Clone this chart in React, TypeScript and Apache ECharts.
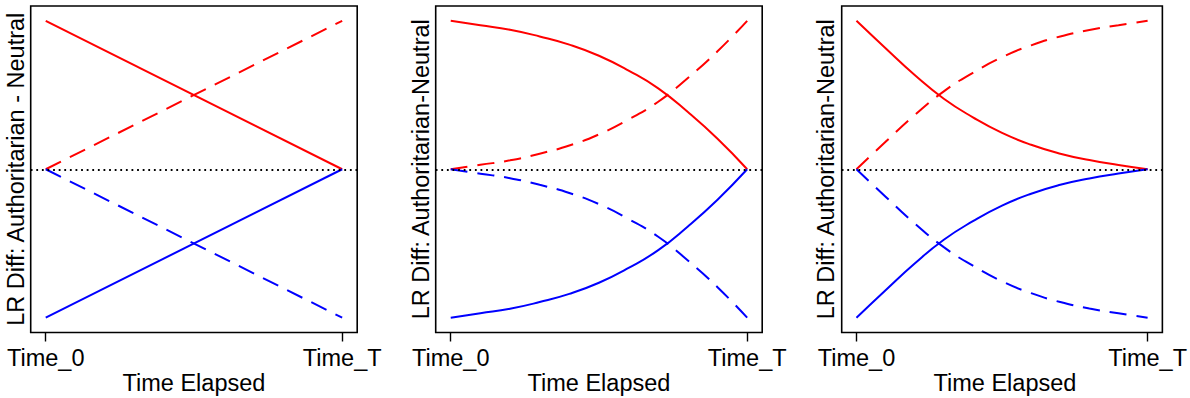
import React, { useEffect, useRef } from 'react';
import * as echarts from 'echarts';

// ---- data ----
const xTickValues = [0, 1];
const xTickLabels = ['Time_0', 'Time_T'];
const xAxisTitle = 'Time Elapsed';
const yAxisTitles = [
  'LR Diff: Authoritarian - Neutral',
  'LR Diff: Authoritarian-Neutral',
  'LR Diff: Authoritarian-Neutral',
];

// panel 1: linear change
const p1Times = [0, 1];
const p1RedSolid = [1, 0];
const p1RedDashed = [0, 1];
const p1BlueSolid = [-1, 0];
const p1BlueDashed = [0, -1];

// panel 2: accelerating change
const p2Times = [0, 0.1, 0.2, 0.3, 0.4, 0.5, 0.6, 0.7, 0.8, 0.9, 1];
const p2RedSolid = [1, 0.97, 0.94, 0.895, 0.84, 0.765, 0.665, 0.545, 0.385, 0.205, 0];
const p2RedDashed = [0, 0.03, 0.06, 0.105, 0.16, 0.235, 0.335, 0.455, 0.615, 0.795, 1];
const p2BlueSolid = [-1, -0.97, -0.94, -0.895, -0.84, -0.765, -0.665, -0.545, -0.385, -0.205, 0];
const p2BlueDashed = [0, -0.03, -0.06, -0.105, -0.16, -0.235, -0.335, -0.455, -0.615, -0.795, -1];

// panel 3: decelerating change
const p3Times = [0, 0.1, 0.2, 0.3, 0.4, 0.5, 0.6, 0.7, 0.8, 0.9, 1];
const p3RedSolid = [1, 0.815, 0.635, 0.475, 0.35, 0.245, 0.165, 0.105, 0.062, 0.029, 0];
const p3RedDashed = [0, 0.185, 0.365, 0.525, 0.65, 0.755, 0.835, 0.895, 0.938, 0.971, 1];
const p3BlueSolid = [-1, -0.815, -0.635, -0.475, -0.35, -0.245, -0.165, -0.105, -0.062, -0.029, 0];
const p3BlueDashed = [0, -0.185, -0.365, -0.525, -0.65, -0.755, -0.835, -0.895, -0.938, -0.971, -1];

const referenceLevel = 0;

const panels = [
  { times: p1Times, redSolid: p1RedSolid, redDashed: p1RedDashed, blueSolid: p1BlueSolid, blueDashed: p1BlueDashed },
  { times: p2Times, redSolid: p2RedSolid, redDashed: p2RedDashed, blueSolid: p2BlueSolid, blueDashed: p2BlueDashed },
  { times: p3Times, redSolid: p3RedSolid, redDashed: p3RedDashed, blueSolid: p3BlueSolid, blueDashed: p3BlueDashed },
];

// ---- layout / style ----
const W = 1190;
const H = 398;
const gridLefts = [30.7, 435.7, 841.7];
const gridTop = 6;
const gridW = 326.5;
const gridH = 326.5;
const FONT = '"Liberation Sans", Arial, Helvetica, sans-serif';
const FS = 23.5;
const RED = '#FF0000';
const BLUE = '#0000FF';
const DASH = [17, 10];
const DOT = [1.8, 3.8];

export default function App() {
  const ref = useRef<HTMLDivElement>(null);

  useEffect(() => {
    if (!ref.current) return;
    const chart = echarts.init(ref.current, undefined, { renderer: 'svg' });

    const grids = gridLefts.map((left) => ({
      left,
      top: gridTop,
      width: gridW,
      height: gridH,
      show: true,
      borderColor: '#000',
      borderWidth: 1.6,
      backgroundColor: 'transparent',
      containLabel: false,
    }));

    const xAxes = gridLefts.map((_, i) => ({
      type: 'value',
      gridIndex: i,
      position: 'bottom',
      min: -0.0507,
      max: 1.0507,
      axisLine: { show: false, onZero: false },
      splitLine: { show: false },
      axisTick: {
        show: true,
        inside: false,
        length: 9,
        customValues: xTickValues,
        lineStyle: { color: '#000', width: 1.4 },
      },
      axisLabel: {
        show: true,
        customValues: xTickValues,
        margin: 13,
        color: '#000',
        fontSize: FS,
        fontFamily: FONT,
        formatter: (v: number) => xTickLabels[xTickValues.indexOf(v)] ?? '',
      },
    }));

    const yAxes = gridLefts.map((_, i) => ({
      type: 'value',
      gridIndex: i,
      min: -1.1,
      max: 1.1,
      axisLine: { show: false, onZero: false },
      axisTick: { show: false },
      axisLabel: { show: false },
      splitLine: { show: false },
    }));

    const series: any[] = [];
    panels.forEach((p, i) => {
      const mk = (vals: number[], color: string, dashed: boolean, withRef: boolean) => {
        const s: any = {
          type: 'line',
          xAxisIndex: i,
          yAxisIndex: i,
          data: p.times.map((t, k) => [t, vals[k]]),
          showSymbol: false,
          symbol: 'none',
          smooth: p.times.length > 2 ? 0.5 : false,
          lineStyle: { color, width: 2, type: dashed ? DASH : 'solid', cap: 'butt' },
          silent: true,
        };
        if (withRef) {
          s.markLine = {
            silent: true,
            symbol: ['none', 'none'],
            label: { show: false },
            lineStyle: { color: '#000', width: 1.8, type: DOT },
            data: [{ yAxis: referenceLevel }],
          };
        }
        return s;
      };
      series.push(mk(p.redSolid, RED, false, true));
      series.push(mk(p.redDashed, RED, true, false));
      series.push(mk(p.blueSolid, BLUE, false, false));
      series.push(mk(p.blueDashed, BLUE, true, false));
    });

    const yTitleX = [15.6, 420.5, 825.5];
    const graphic: any[] = [];
    gridLefts.forEach((left, i) => {
      graphic.push({
        type: 'text',
        x: yTitleX[i],
        y: gridTop + gridH / 2,
        rotation: Math.PI / 2,
        style: {
          text: yAxisTitles[i],
          fontSize: FS,
          fontFamily: FONT,
          fill: '#000',
          align: 'center',
          verticalAlign: 'middle',
        },
      });
      graphic.push({
        type: 'text',
        x: left + gridW / 2,
        y: 383,
        style: {
          text: xAxisTitle,
          fontSize: FS,
          fontFamily: FONT,
          fill: '#000',
          align: 'center',
          verticalAlign: 'middle',
        },
      });
    });

    chart.setOption({
      animation: false,
      backgroundColor: '#fff',
      grid: grids,
      xAxis: xAxes,
      yAxis: yAxes,
      series,
      graphic,
    });

    return () => chart.dispose();
  }, []);

  return (
    <div
      ref={ref}
      style={{ position: 'fixed', left: 0, top: 0, width: W, height: H, background: '#fff' }}
    />
  );
}
